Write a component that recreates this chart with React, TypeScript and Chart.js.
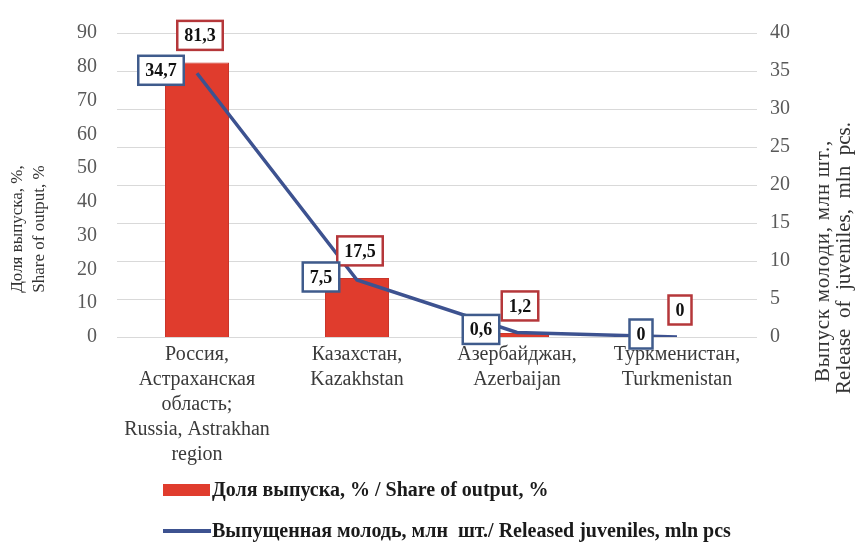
import React, { useEffect, useRef } from "react";
import { Chart, registerables } from "chart.js";

Chart.register(...registerables);

const categories = [
  ["Россия,", "Астраханская", "область;", "Russia, Astrakhan", "region"],
  ["Казахстан,", "Kazakhstan"],
  ["Азербайджан,", "Azerbaijan"],
  ["Туркменистан,", "Turkmenistan"],
];
const shareOfOutput = [81.3, 17.5, 1.2, 0];
const releasedJuveniles = [34.7, 7.5, 0.6, 0];
const leftAxisMin = 0;
const leftAxisMax = 90;
const leftAxisStep = 10;
const rightAxisMin = 0;
const rightAxisMax = 40;
const rightAxisStep = 5;
const leftTitle = ["Доля выпуска, %,", "Share of output, %"];
const rightTitle = ["Выпуск молоди, млн шт.,", "Release  of  juveniles,  mln  pcs."];
const legendLabels = [
  "Доля выпуска, % / Share of output, %",
  "Выпущенная молодь, млн  шт./ Released juveniles, mln pcs",
];

const SERIF = '"Liberation Serif", "Times New Roman", serif';
const BAR_COLOR = "#e03c2d";
const LINE_COLOR = "#3d5290";
const fmt = (v: number) => String(v).replace(".", ",");

const overlay = {
  id: "overlay",
  afterDatasetsDraw(chart: any) {
    const ctx = chart.ctx;
    ctx.save();
    ctx.font = `bold 18px ${SERIF}`;
    ctx.textAlign = "center";
    ctx.textBaseline = "middle";
    const drawBox = (cx: number, cy: number, text: string, border: string) => {
      const w = ctx.measureText(text).width + 14;
      const h = 29;
      ctx.fillStyle = "#ffffff";
      ctx.fillRect(cx - w / 2, cy - h / 2, w, h);
      ctx.lineWidth = 2.5;
      ctx.strokeStyle = border;
      ctx.strokeRect(cx - w / 2, cy - h / 2, w, h);
      ctx.fillStyle = "#111111";
      ctx.fillText(text, cx, cy + 1);
    };
    const barMeta = chart.getDatasetMeta(0);
    barMeta.data.forEach((el: any, i: number) =>
      drawBox(el.x + 3, el.y - 27, fmt(shareOfOutput[i]), "#b5373a")
    );
    const lineMeta = chart.getDatasetMeta(1);
    lineMeta.data.forEach((el: any, i: number) =>
      drawBox(el.x - 36, el.y - 3, fmt(releasedJuveniles[i]), "#3f5b8c")
    );
    ctx.restore();
  },
  afterDraw(chart: any) {
    const ctx = chart.ctx;
    ctx.save();
    ctx.fillStyle = "#333333";
    ctx.textAlign = "center";
    ctx.textBaseline = "middle";
    const rot = (x: number, y: number, t: string, size: number, target: number) => {
      ctx.save();
      ctx.font = `${size}px ${SERIF}`;
      const w = ctx.measureText(t).width;
      if (target > w && "letterSpacing" in ctx) {
        (ctx as any).letterSpacing = `${(target - w) / t.length}px`;
      }
      ctx.translate(x, y);
      ctx.rotate(-Math.PI / 2);
      ctx.fillText(t, 0, 0);
      ctx.restore();
    };
    rot(18, 229, leftTitle[0], 17, 0);
    rot(40, 229, leftTitle[1], 17, 0);
    rot(823, 261, rightTitle[0], 21, 242);
    rot(844, 258, rightTitle[1], 21, 262);
    // legend
    ctx.fillStyle = BAR_COLOR;
    ctx.fillRect(163, 484, 47, 12);
    ctx.strokeStyle = LINE_COLOR;
    ctx.lineWidth = 4;
    ctx.beginPath();
    ctx.moveTo(163, 531);
    ctx.lineTo(211, 531);
    ctx.stroke();
    ctx.font = `bold 20px ${SERIF}`;
    ctx.fillStyle = "#1a1a1a";
    ctx.textAlign = "left";
    ctx.fillText(legendLabels[0], 212, 491);
    ctx.fillText(legendLabels[1], 212, 532);
    ctx.restore();
  },
};

export default function App() {
  const ref = useRef<HTMLCanvasElement>(null);
  useEffect(() => {
    const chart = new Chart(ref.current as HTMLCanvasElement, {
      type: "bar",
      data: {
        labels: categories as any,
        datasets: [
          {
            type: "bar",
            label: legendLabels[0],
            data: shareOfOutput,
            yAxisID: "y",
            backgroundColor: BAR_COLOR,
            borderColor: "#c9352a",
            borderWidth: 1,
            barPercentage: 0.4,
            categoryPercentage: 1,
            order: 2,
          } as any,
          {
            type: "line",
            label: legendLabels[1],
            data: releasedJuveniles,
            yAxisID: "y1",
            borderColor: LINE_COLOR,
            borderWidth: 3.5,
            pointRadius: 0,
            tension: 0,
            order: 1,
          } as any,
        ],
      },
      options: {
        responsive: false,
        animation: false,
        layout: { padding: { top: 33, left: 0, right: 0, bottom: 0 } },
        plugins: { legend: { display: false }, tooltip: { enabled: false } },
        scales: {
          x: {
            grid: { display: false, drawTicks: false },
            border: { display: false },
            ticks: {
              font: { family: SERIF, size: 20, lineHeight: 1.25 },
              color: "#3a3a3a",
              padding: 5,
              maxRotation: 0,
              autoSkip: false,
            },
            afterFit: (s: any) => {
              s.height = 206;
            },
          },
          y: {
            position: "left",
            min: leftAxisMin,
            max: leftAxisMax,
            ticks: {
              stepSize: leftAxisStep,
              font: { family: SERIF, size: 20 },
              color: "#595959",
              padding: 20,
            },
            grid: { display: false, drawTicks: false },
            border: { display: false },
            afterFit: (s: any) => {
              s.width = 117;
            },
          },
          y1: {
            position: "right",
            min: rightAxisMin,
            max: rightAxisMax,
            ticks: {
              stepSize: rightAxisStep,
              font: { family: SERIF, size: 20 },
              color: "#595959",
              padding: 13,
            },
            grid: { color: "#d9d9d9", lineWidth: 1, drawTicks: false },
            border: { display: false },
            afterFit: (s: any) => {
              s.width = 103;
            },
          },
        },
      },
      plugins: [overlay],
    });
    return () => chart.destroy();
  }, []);
  return (
    <div style={{ position: "absolute", left: 0, top: 0, width: 860, height: 543, background: "#fff" }}>
      <canvas ref={ref} width={860} height={543} />
    </div>
  );
}
